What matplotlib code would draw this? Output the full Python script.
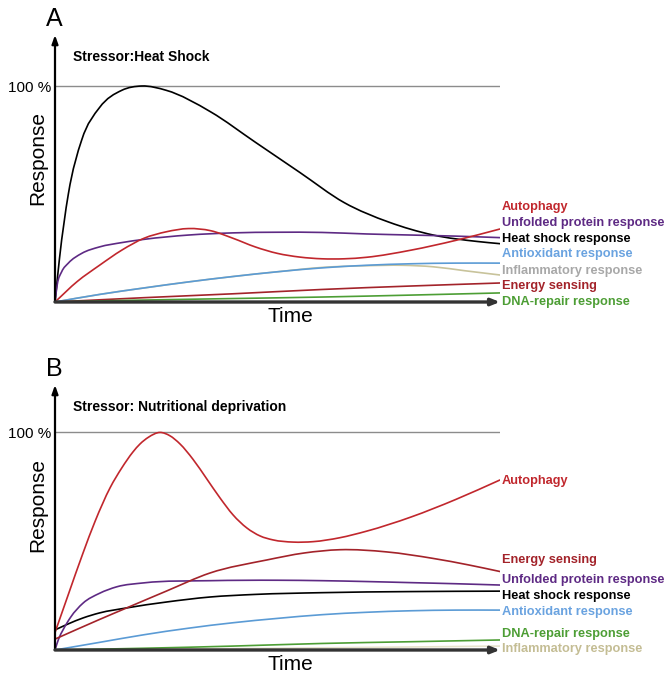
import numpy as np
import matplotlib
matplotlib.use('Agg')
import matplotlib.pyplot as plt
from matplotlib.path import Path
from matplotlib.patches import PathPatch

plt.rcParams['font.family'] = ['Liberation Sans', 'DejaVu Sans']

W, H = 669, 676

# ---- panel A : heat shock (time 0..1, response in %)
a_heat_t = [0, 0.01, 0.03, 0.06, 0.1, 0.15, 0.195, 0.25, 0.35, 0.45, 0.55, 0.65, 0.75, 0.85, 0.95, 1.0]
a_heat_y = [0, 20, 50, 75, 90, 98, 100, 98, 88, 74, 60, 46, 37, 31, 28, 27]
a_upr_t = [0, 0.005, 0.015, 0.03, 0.06, 0.1, 0.15, 0.2, 0.3, 0.4, 0.5, 0.6, 0.7, 0.8, 0.9, 1.0]
a_upr_y = [0, 8, 14, 18, 22.5, 25.5, 27.5, 29, 31, 32, 32.3, 32.2, 31.5, 31, 30.5, 29.8]
a_auto_t = [0, 0.05, 0.1, 0.15, 0.2, 0.25, 0.3, 0.35, 0.4, 0.45, 0.5, 0.55, 0.6, 0.65, 0.7, 0.8, 0.9, 1.0]
a_auto_y = [0, 9.5, 17, 24, 29.5, 32.5, 34, 33, 29.5, 25.5, 22.5, 20.8, 20, 20, 20.7, 24, 28.5, 33.8]
a_anti_t = [0, 0.1, 0.2, 0.3, 0.4, 0.5, 0.6, 0.7, 0.8, 0.9, 1.0]
a_anti_y = [0, 3.5, 6.5, 9.3, 11.8, 14, 15.8, 17, 17.7, 18, 18]
a_infl_t = [0, 0.1, 0.2, 0.3, 0.4, 0.5, 0.6, 0.7, 0.78, 0.85, 0.92, 1.0]
a_infl_y = [0, 3.5, 6.5, 9.3, 11.8, 14, 16, 16.8, 17, 16.3, 14.5, 12.5]
a_ener_t = [0, 0.2, 0.4, 0.6, 0.8, 1.0]
a_ener_y = [0, 2, 3.8, 5.8, 7.4, 8.8]
a_dna_t = [0, 0.1, 0.2, 0.4, 0.6, 0.8, 1.0]
a_dna_y = [0, 0.5, 0.9, 1.6, 2.3, 3.2, 4.2]

# ---- panel B : nutritional deprivation
b_auto_t = [0, 0.03, 0.063, 0.09, 0.124, 0.15, 0.175, 0.191, 0.21, 0.236, 0.258, 0.281, 0.31,
            0.341, 0.371, 0.4, 0.431, 0.461, 0.49, 0.535, 0.58, 0.64, 0.7, 0.8, 0.9, 1.0]
b_auto_y = [8, 25.5, 44.5, 59, 74.5, 83.5, 90.8, 94.5, 97.6, 99.8, 98.3, 94.5, 87.5,
            78.5, 69.7, 62, 56, 52.3, 50.5, 49.5, 49.7, 51.5, 54.5, 61, 69, 78]
b_ener_t = [0, 0.1, 0.161, 0.25, 0.348, 0.476, 0.56, 0.64, 0.745, 0.85, 0.93, 1.0]
b_ener_y = [5, 14, 19.3, 27, 35.3, 41.3, 44.5, 46, 45, 42, 39, 36]
b_upr_t = [0, 0.008, 0.018, 0.035, 0.063, 0.1, 0.139, 0.2, 0.35, 0.5, 0.6, 0.7, 0.8, 0.9, 1.0]
b_upr_y = [0, 5, 9.2, 15, 21.5, 26, 29, 30.8, 31.8, 32, 31.8, 31.4, 30.9, 30.4, 29.8]
b_heat_t = [0, 0.03, 0.063, 0.1, 0.161, 0.25, 0.348, 0.45, 0.6, 0.8, 1.0]
b_heat_y = [9.2, 12, 14.7, 17, 19.3, 22, 24.3, 25.5, 26.3, 26.8, 27]
b_anti_t = [0, 0.1, 0.2, 0.3, 0.4, 0.5, 0.6, 0.7, 0.8, 0.9, 1.0]
b_anti_y = [0, 3.5, 7, 10, 12.5, 14.5, 16.2, 17.3, 18, 18.3, 18.3]
b_dna_t = [0, 0.2, 0.4, 0.6, 0.8, 1.0]
b_dna_y = [0, 0.8, 1.8, 3, 3.8, 4.6]
b_infl_t = [0, 0.5, 1.0]
b_infl_y = [0, 0.8, 1.8]

RED = '#c1272d'
PURPLE = '#5e2a84'
BLUE = '#5b9bd5'
TAN = '#c8c39b'
DARKRED = '#a3232a'
GREEN = '#4d9e35'

a_series = [(a_heat_t, a_heat_y, 'black'), (a_upr_t, a_upr_y, PURPLE),
            (a_auto_t, a_auto_y, RED), (a_infl_t, a_infl_y, TAN),
            (a_anti_t, a_anti_y, BLUE), (a_ener_t, a_ener_y, DARKRED),
            (a_dna_t, a_dna_y, GREEN)]
b_series = [(b_infl_t, b_infl_y, '#e6e2cc'), (b_dna_t, b_dna_y, GREEN),
            (b_anti_t, b_anti_y, BLUE), (b_heat_t, b_heat_y, 'black'),
            (b_upr_t, b_upr_y, PURPLE), (b_ener_t, b_ener_y, DARKRED),
            (b_auto_t, b_auto_y, RED)]

# labels on the right: text, colour, pixel y
a_labels = [('Autophagy', RED, 207), ('Unfolded protein response', PURPLE, 223),
            ('Heat shock response', 'black', 239), ('Antioxidant response', '#6aa3e0', 254),
            ('Inflammatory response', '#a8a8a8', 271), ('Energy sensing', DARKRED, 286),
            ('DNA-repair response', GREEN, 302)]
b_labels = [('Autophagy', RED, 481), ('Energy sensing', DARKRED, 560),
            ('Unfolded protein response', PURPLE, 580), ('Heat shock response', 'black', 596),
            ('Antioxidant response', '#6aa3e0', 612), ('DNA-repair response', GREEN, 634),
            ('Inflammatory response', '#c4bd94', 649)]


def fx(px):
    return px / W


def fy(py):
    return 1 - py / H


def smooth_path(t, y):
    # cubic bezier segments through the read points (hermite tangents)
    t = np.asarray(t, float)
    y = np.asarray(y, float)
    h = np.diff(t)
    s = np.diff(y) / h
    m = np.empty_like(y)
    m[0], m[-1] = s[0], s[-1]
    m[1:-1] = (s[1:] * h[:-1] + s[:-1] * h[1:]) / (h[:-1] + h[1:])
    verts = [(t[0], y[0])]
    codes = [Path.MOVETO]
    for i in range(len(h)):
        verts += [(t[i] + h[i] / 3, y[i] + m[i] * h[i] / 3),
                  (t[i + 1] - h[i] / 3, y[i + 1] - m[i + 1] * h[i] / 3),
                  (t[i + 1], y[i + 1])]
        codes += [Path.CURVE4] * 3
    return Path(verts, codes)


fig = plt.figure(figsize=(W / 100, H / 100), dpi=100)


def panel(origin_y, top_y, hundred_y, letter, title, series, labels):
    ymax = 100 * (origin_y - top_y) / (origin_y - hundred_y)
    ax = fig.add_axes([fx(55), fy(origin_y), 445 / W, (origin_y - top_y) / H])
    ax.set_xlim(0, 1)
    ax.set_ylim(0, ymax)
    for s in ax.spines.values():
        s.set_visible(False)
    ax.set_xticks([])
    ax.set_yticks([100])
    ax.set_yticklabels(['100 %'], fontsize=11)
    ax.tick_params(axis='y', length=0, pad=3)
    ax.axhline(100, color='#8c8c8c', lw=1, zorder=1)
    for t, y, c in series:
        ax.add_patch(PathPatch(smooth_path(t, y), fill=False, edgecolor=c, lw=1.2,
                               joinstyle='round', capstyle='round', zorder=3))
    ax.annotate('', xy=(0, 1), xytext=(0, 0), xycoords='axes fraction',
                arrowprops=dict(arrowstyle='-|>,head_length=0.5,head_width=0.18',
                                color='black', lw=1.6, shrinkA=0, shrinkB=0), zorder=5)
    ax.annotate('', xy=(1, 0), xytext=(0, 0), xycoords='axes fraction',
                arrowprops=dict(arrowstyle='-|>,head_length=0.5,head_width=0.2',
                                color='#333333', lw=2.4, shrinkA=0, shrinkB=0), zorder=5)
    fig.text(fx(54), fy(top_y - 16), letter, fontsize=18, ha='center', va='center')
    fig.text(fx(73), fy(top_y + 22), title, fontsize=10, fontweight='bold', va='center')
    fig.text(fx(38), fy((origin_y + hundred_y) / 2 - 36), 'Response', fontsize=15,
             rotation=90, ha='center', va='center')
    fig.text(fx(290), fy(origin_y + 15), 'Time', fontsize=15, ha='center', va='center')
    for txt, c, py in labels:
        fig.text(fx(502), fy(py), txt, color=c, fontsize=9.2, fontweight='bold', va='center')
    return ax


panel(302, 35, 86, 'A', 'Stressor:Heat Shock', a_series, a_labels)
panel(650, 385, 432, 'B', 'Stressor: Nutritional deprivation', b_series, b_labels)

fig.savefig('out.png', dpi=100)
